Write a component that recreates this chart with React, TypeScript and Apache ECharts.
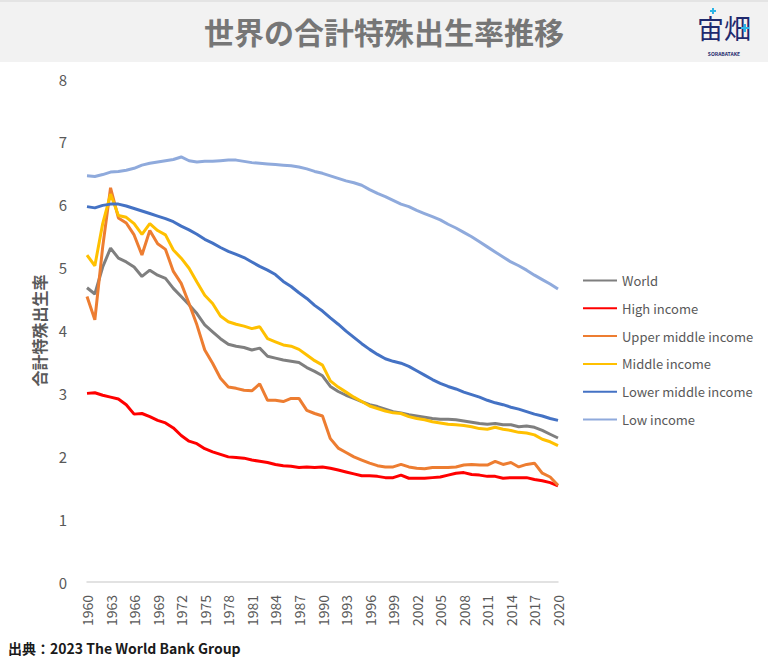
import React, { useEffect, useRef } from 'react';
import * as echarts from 'echarts';

// 年（カテゴリ）
const years: string[] = [];
for (let y = 1960; y <= 2020; y++) years.push(String(y));

// 系列名
const seriesNames = [
  'World',
  'High income',
  'Upper middle income',
  'Middle income',
  'Lower middle income',
  'Low income',
];

const seriesColors = ['#7F7F7F', '#FF0000', '#ED7D31', '#FFC000', '#4472C4', '#8FAADC'];

// 合計特殊出生率（1960〜2020）
const world = [
  4.68, 4.58, 5.01, 5.31, 5.15, 5.09, 5.01, 4.86, 4.96, 4.88,
  4.83, 4.67, 4.54, 4.41, 4.27, 4.09, 3.98, 3.87, 3.78, 3.75,
  3.73, 3.69, 3.72, 3.59, 3.56, 3.53, 3.51, 3.49, 3.41, 3.35,
  3.28, 3.11, 3.03, 2.97, 2.92, 2.87, 2.82, 2.79, 2.75, 2.71,
  2.69, 2.66, 2.64, 2.62, 2.60, 2.59, 2.59, 2.58, 2.56, 2.54,
  2.52, 2.51, 2.52, 2.50, 2.50, 2.47, 2.48, 2.46, 2.41, 2.35,
  2.29,
];

const highIncome = [
  3.00, 3.01, 2.97, 2.94, 2.91, 2.82, 2.67, 2.68, 2.63, 2.57,
  2.53, 2.45, 2.33, 2.24, 2.20, 2.12, 2.07, 2.03, 1.99, 1.98,
  1.97, 1.94, 1.92, 1.90, 1.87, 1.85, 1.84, 1.82, 1.83, 1.82,
  1.83, 1.81, 1.78, 1.75, 1.72, 1.69, 1.69, 1.68, 1.66, 1.66,
  1.70, 1.65, 1.65, 1.65, 1.66, 1.67, 1.70, 1.73, 1.74, 1.71,
  1.70, 1.68, 1.68, 1.65, 1.66, 1.66, 1.66, 1.63, 1.61, 1.58,
  1.53,
];

const upperMiddle = [
  4.54, 4.17, 5.33, 6.27, 5.79, 5.71, 5.52, 5.20, 5.59, 5.38,
  5.29, 4.94, 4.75, 4.43, 4.09, 3.69, 3.48, 3.24, 3.10, 3.08,
  3.05, 3.04, 3.15, 2.89, 2.89, 2.87, 2.92, 2.92, 2.73, 2.68,
  2.64, 2.28, 2.13, 2.06, 1.99, 1.94, 1.89, 1.85, 1.83, 1.83,
  1.87, 1.83, 1.81, 1.80, 1.82, 1.82, 1.82, 1.83, 1.86, 1.87,
  1.86, 1.86, 1.92, 1.87, 1.90, 1.83, 1.87, 1.89, 1.73, 1.67,
  1.54,
];

const middleIncome = [
  5.20, 5.03, 5.70, 6.17, 5.83, 5.80, 5.70, 5.53, 5.70, 5.59,
  5.52, 5.28, 5.15, 4.99, 4.77, 4.56, 4.43, 4.23, 4.14, 4.10,
  4.07, 4.03, 4.06, 3.87, 3.82, 3.77, 3.75, 3.70, 3.61, 3.52,
  3.45, 3.20, 3.10, 3.02, 2.94, 2.87, 2.80, 2.76, 2.72, 2.69,
  2.68, 2.63, 2.60, 2.58, 2.55, 2.53, 2.51, 2.50, 2.49, 2.47,
  2.44, 2.43, 2.46, 2.43, 2.41, 2.38, 2.37, 2.34, 2.27, 2.23,
  2.17,
];

const lowerMiddle = [
  5.97, 5.95, 5.99, 6.01, 6.01, 5.98, 5.94, 5.90, 5.86, 5.82,
  5.78, 5.73, 5.66, 5.60, 5.53, 5.45, 5.39, 5.32, 5.26, 5.21,
  5.16, 5.09, 5.02, 4.96, 4.89, 4.78, 4.70, 4.60, 4.51, 4.40,
  4.31, 4.20, 4.10, 3.99, 3.89, 3.79, 3.70, 3.62, 3.55, 3.51,
  3.48, 3.43, 3.36, 3.29, 3.22, 3.16, 3.11, 3.07, 3.02, 2.98,
  2.94, 2.89, 2.85, 2.82, 2.78, 2.75, 2.71, 2.67, 2.64, 2.60,
  2.57,
];

const lowIncome = [
  6.46, 6.45, 6.48, 6.52, 6.53, 6.55, 6.58, 6.63, 6.66, 6.68,
  6.70, 6.72, 6.76, 6.70, 6.68, 6.69, 6.69, 6.70, 6.71, 6.71,
  6.69, 6.67, 6.66, 6.65, 6.64, 6.63, 6.62, 6.60, 6.57, 6.53,
  6.50, 6.46, 6.42, 6.38, 6.35, 6.31, 6.24, 6.18, 6.13, 6.07,
  6.01, 5.97, 5.91, 5.86, 5.81, 5.76, 5.69, 5.63, 5.56, 5.49,
  5.41, 5.33, 5.25, 5.17, 5.09, 5.03, 4.96, 4.88, 4.81, 4.74,
  4.66,
];

const seriesData = [world, highIncome, upperMiddle, middleIncome, lowerMiddle, lowIncome];

// y軸の目盛り
const yMin = 0;
const yMax = 8;
const yInterval = 1;

const titleText = '世界の合計特殊出生率推移';
const yAxisName = '合計特殊出生率';
const sourceText = '出典：2023 The World Bank Group';
const logoText = '宙畑';
const logoSub = 'SORABATAKE';

const FONT = '"Noto Sans CJK JP", "Noto Sans", sans-serif';

// ロゴの水色の十字
const cross = (cx: number, cy: number, r: number) => [
  {
    type: 'line',
    shape: { x1: cx - r, y1: cy, x2: cx + r, y2: cy },
    style: { stroke: '#2bb5e6', lineWidth: 2 },
  },
  {
    type: 'line',
    shape: { x1: cx, y1: cy - r, x2: cx, y2: cy + r },
    style: { stroke: '#2bb5e6', lineWidth: 2 },
  },
];

const App = () => {
  const chartRef = useRef<HTMLDivElement>(null);

  useEffect(() => {
    if (!chartRef.current) return;
    const chart = echarts.init(chartRef.current, null, { renderer: 'svg' });

    chart.setOption({
      animation: false,
      backgroundColor: '#ffffff',
      textStyle: { fontFamily: FONT },
      title: {
        text: titleText,
        left: 'center',
        top: 11,
        textStyle: {
          fontSize: 30,
          fontWeight: 'bold',
          color: '#767676',
          fontFamily: FONT,
        },
      },
      graphic: [
        // ヘッダー帯
        {
          type: 'rect',
          z: -10,
          shape: { x: 0, y: 0, width: 768, height: 62 },
          style: { fill: '#f2f2f2' },
        },
        {
          type: 'rect',
          z: -9,
          shape: { x: 0, y: 0, width: 768, height: 2 },
          style: { fill: '#e4e4e4' },
        },
        // ロゴ
        {
          type: 'text',
          x: 724,
          y: 27,
          style: {
            text: logoText,
            fontSize: 27,
            lineHeight: 30,
            fontFamily: FONT,
            fill: '#1f2a6e',
            align: 'center',
            verticalAlign: 'middle',
          },
        },
        {
          type: 'text',
          x: 724,
          y: 53,
          style: {
            text: logoSub,
            fontSize: 5,
            lineHeight: 6,
            fontWeight: 'bold',
            fontFamily: FONT,
            fill: '#1f2a6e',
            align: 'center',
            verticalAlign: 'middle',
          },
        },
        ...cross(713, 11, 3),
        ...cross(745, 28, 4),
        // 出典
        {
          type: 'text',
          left: 8,
          top: 641,
          style: {
            text: sourceText,
            fontSize: 14,
            fontWeight: 'bold',
            fontFamily: FONT,
            fill: '#1a1a1a',
          },
        },
      ],
      legend: {
        orient: 'vertical',
        left: 577,
        top: 269,
        itemWidth: 34,
        itemHeight: 14,
        itemGap: 14.8,
        data: seriesNames,
        itemStyle: { opacity: 0 },
        textStyle: {
          fontSize: 13,
          color: '#595959',
          fontFamily: FONT,
        },
      },
      grid: {
        left: 87,
        right: 210,
        top: 79,
        bottom: 80,
        containLabel: false,
      },
      xAxis: {
        type: 'category',
        data: years,
        boundaryGap: false,
        axisLine: { lineStyle: { color: '#d9d9d9', width: 1.5 } },
        axisTick: { show: false },
        axisLabel: {
          interval: 2,
          rotate: 90,
          margin: 13,
          fontSize: 14,
          color: '#595959',
          fontFamily: FONT,
        },
      },
      yAxis: {
        type: 'value',
        min: yMin,
        max: yMax,
        interval: yInterval,
        name: yAxisName,
        nameLocation: 'middle',
        nameGap: 40,
        nameTextStyle: {
          fontSize: 16,
          fontWeight: 'bold',
          color: '#595959',
          fontFamily: FONT,
        },
        axisLine: { show: false },
        axisTick: { show: false },
        splitLine: { show: false },
        axisLabel: {
          margin: 20,
          fontSize: 15,
          color: '#595959',
          fontFamily: FONT,
        },
      },
      series: seriesNames.map((name, i) => ({
        name,
        type: 'line',
        data: seriesData[i],
        symbol: 'none',
        lineStyle: { color: seriesColors[i], width: 3 },
        itemStyle: { color: seriesColors[i] },
      })),
    });

    return () => {
      chart.dispose();
    };
  }, []);

  return (
    <div
      ref={chartRef}
      style={{ position: 'absolute', left: 0, top: 0, width: 768, height: 662 }}
    />
  );
};

export default App;
